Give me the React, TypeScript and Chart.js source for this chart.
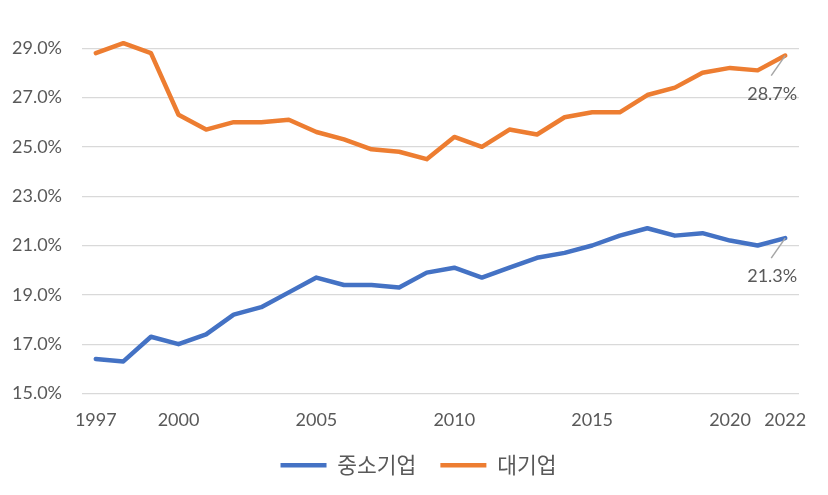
import React, { useEffect, useRef } from 'react';
import { Chart, registerables } from 'chart.js';

Chart.register(...registerables);

const YEARS = [
  '1997', '1998', '1999', '2000', '2001', '2002', '2003', '2004', '2005', '2006',
  '2007', '2008', '2009', '2010', '2011', '2012', '2013', '2014', '2015', '2016',
  '2017', '2018', '2019', '2020', '2021', '2022',
];
const SME = [
  16.4, 16.3, 17.3, 17.0, 17.4, 18.2, 18.5, 19.1, 19.7, 19.4,
  19.4, 19.3, 19.9, 20.1, 19.7, 20.1, 20.5, 20.7, 21.0, 21.4,
  21.7, 21.4, 21.5, 21.2, 21.0, 21.3,
];
const LARGE = [
  28.8, 29.2, 28.8, 26.3, 25.7, 26.0, 26.0, 26.1, 25.6, 25.3,
  24.9, 24.8, 24.5, 25.4, 25.0, 25.7, 25.5, 26.2, 26.4, 26.4,
  27.1, 27.4, 28.0, 28.2, 28.1, 28.7,
];
const SERIES_NAMES = ['중소기업', '대기업'];
const X_TICKS_SHOWN = ['1997', '2000', '2005', '2010', '2015', '2020', '2022'];
const Y_TICKS = [15, 17, 19, 21, 23, 25, 27, 29];

const TEXT_COLOR = '#595959';
const BLUE = '#4472C4';
const ORANGE = '#ED7D31';
const NUM_FONT = 'Lato, "Liberation Sans", sans-serif';
const KR_FONT = '"Noto Sans CJK KR", sans-serif';

const lastLabelPlugin = {
  id: 'lastLabel',
  afterLayout(chart: any) {
    if (chart.legend) {
      chart.legend.left += 19;
      chart.legend.right += 19;
    }
  },
  afterDatasetsDraw(chart: any) {
    const ctx = chart.ctx;
    chart.data.datasets.forEach((ds: any, i: number) => {
      const meta = chart.getDatasetMeta(i);
      const n = meta.data.length;
      const pt = meta.data[n - 1];
      const v = ds.data[n - 1];
      ctx.save();
      ctx.strokeStyle = '#A6A6A6';
      ctx.lineWidth = 1.5;
      ctx.beginPath();
      ctx.moveTo(pt.x, pt.y);
      ctx.lineTo(pt.x - 14, pt.y + 20);
      ctx.stroke();
      ctx.fillStyle = TEXT_COLOR;
      ctx.font = `18px ${NUM_FONT}`;
      ctx.textAlign = 'center';
      ctx.textBaseline = 'middle';
      ctx.fillText(v.toFixed(1) + '%', pt.x - 13, pt.y + 38.5);
      ctx.restore();
    });
  },
};

export default function App() {
  const ref = useRef<HTMLCanvasElement | null>(null);

  useEffect(() => {
    document.body.style.margin = '0';
    if (!ref.current) return;
    const chart = new Chart(ref.current, {
      type: 'line',
      data: {
        labels: YEARS,
        datasets: [
          {
            label: SERIES_NAMES[0],
            data: SME,
            borderColor: BLUE,
            backgroundColor: BLUE,
            borderWidth: 4.5,
            borderCapStyle: 'round',
            borderJoinStyle: 'round',
            pointRadius: 0,
            tension: 0,
          },
          {
            label: SERIES_NAMES[1],
            data: LARGE,
            borderColor: ORANGE,
            backgroundColor: ORANGE,
            borderWidth: 4.5,
            borderCapStyle: 'round',
            borderJoinStyle: 'round',
            pointRadius: 0,
            tension: 0,
          },
        ],
      },
      options: {
        animation: false,
        responsive: false,
        devicePixelRatio: 1,
        layout: { padding: { left: 0, right: 29, top: 23.5, bottom: 9 } },
        scales: {
          x: {
            type: 'category',
            offset: true,
            grid: { display: false },
            border: { display: false },
            afterFit: (scale: any) => {
              scale.height = 37;
            },
            ticks: {
              autoSkip: false,
              maxRotation: 0,
              padding: 8,
              color: TEXT_COLOR,
              font: { family: NUM_FONT, size: 18 },
              callback: function (this: any, _v: any, idx: number) {
                const lab = YEARS[idx];
                return X_TICKS_SHOWN.includes(lab) ? lab : '';
              },
            },
          },
          y: {
            min: 15,
            max: 30,
            afterBuildTicks: (scale: any) => {
              scale.ticks = Y_TICKS.map((v) => ({ value: v }));
            },
            afterFit: (scale: any) => {
              scale.width = 82;
            },
            grid: {
              color: '#D9D9D9',
              lineWidth: 1.3,
              drawTicks: true,
              tickLength: 20,
              tickColor: 'rgba(0,0,0,0)',
            },
            border: { display: false },
            ticks: {
              padding: 0,
              color: TEXT_COLOR,
              font: { family: NUM_FONT, size: 18 },
              callback: (v: any) => Number(v).toFixed(1) + '%',
            },
          },
        },
        plugins: {
          legend: {
            position: 'bottom',
            labels: {
              usePointStyle: true,
              pointStyle: 'line',
              pointStyleWidth: 46,
              padding: 24,
              color: TEXT_COLOR,
              font: { family: KR_FONT, size: 21.5 },
            },
          },
          tooltip: { enabled: false },
        },
      },
      plugins: [lastLabelPlugin],
    } as any);
    return () => chart.destroy();
  }, []);

  return (
    <div style={{ width: 828, height: 495 }}>
      <canvas ref={ref} width={828} height={495} />
    </div>
  );
}
